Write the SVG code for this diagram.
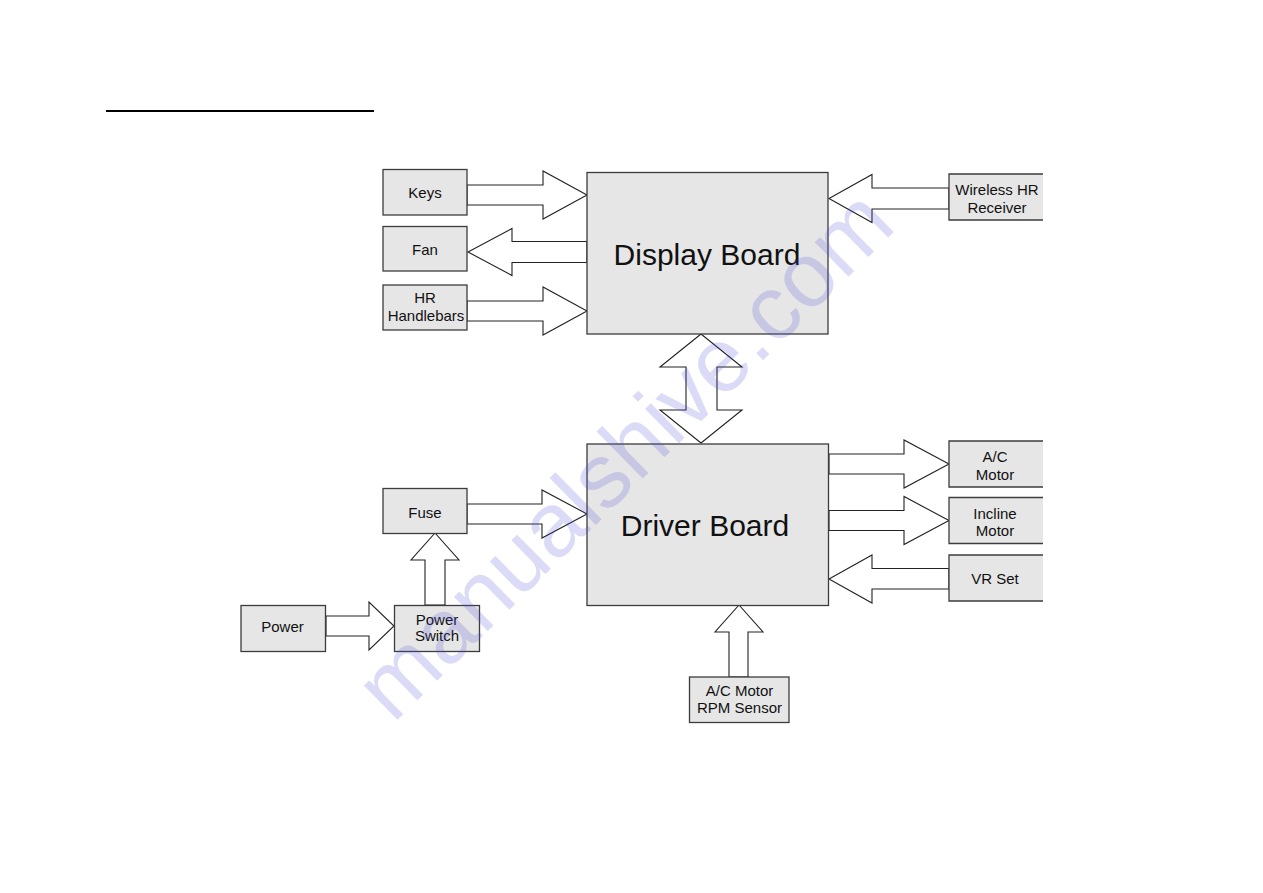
<svg xmlns="http://www.w3.org/2000/svg" width="1263" height="893" viewBox="0 0 1263 893">
<style>
.box{fill:#e6e6e6;stroke:#3c3c3c;stroke-width:1.3}
.boxfill{fill:#e6e6e6;stroke:none}
.boxedge{fill:none;stroke:#3c3c3c;stroke-width:1.3}
.arr{fill:#ffffff;stroke:#222;stroke-width:1.1;stroke-linejoin:miter}
.t{font-family:"Liberation Sans",Arial,sans-serif;font-size:15px;fill:#111;text-anchor:middle}
.big{font-family:"Liberation Sans",Arial,sans-serif;font-size:30px;fill:#111;text-anchor:middle}
.wm{font-family:"Liberation Sans",Arial,sans-serif;font-size:91px;fill:#5050e0;opacity:0.2;text-anchor:middle}
</style>
<rect x="0" y="0" width="1263" height="893" fill="#ffffff"/>
<line x1="106" y1="111" x2="374" y2="111" stroke="#000" stroke-width="2.2"/>
<g id="connectors">
<polygon class="arr" points="467,185 543,185 543,171 587,195 543,219 543,205 467,205"/>
<polygon class="arr" points="587,241.5 512,241.5 512,228.5 468,252 512,275.5 512,262.5 587,262.5"/>
<polygon class="arr" points="467,301 543,301 543,287 587,311 543,335 543,321 467,321"/>
<polygon class="arr" points="949,188 872,188 872,174.5 829,198.5 872,222.5 872,209 949,209"/>
<polygon class="arr" points="701,334 742,367 717,367 717,410 742,410 701,443 660,410 686,410 686,367 660,367"/>
<polygon class="arr" points="829,454 904,454 904,440 949,464 904,488 904,474 829,474"/>
<polygon class="arr" points="829,510.5 904,510.5 904,496.5 949,520.5 904,544.5 904,530.5 829,530.5"/>
<polygon class="arr" points="949,568.5 872,568.5 872,555 829,579 872,603 872,589 949,589"/>
<polygon class="arr" points="467,504 542,504 542,490 587,514 542,538 542,524 467,524"/>
<polygon class="arr" points="326,616 369,616 369,602 394,626 369,650 369,636 326,636"/>
<polygon class="arr" points="425,605 425,560 411,560 435,533 459,560 445,560 445,605"/>
<polygon class="arr" points="729,677 729,632 715,632 739,605 763,632 748,632 748,677"/>
</g>
<g id="keys"><rect class="box" x="383" y="169.5" width="84" height="45.5"/><text class="t" x="425" y="198">Keys</text></g>
<g id="fan"><rect class="box" x="383" y="226.5" width="84" height="44.5"/><text class="t" x="425" y="254.5">Fan</text></g>
<g id="hr-handlebars"><rect class="box" x="383" y="285" width="84" height="45"/><text class="t" x="425" y="303">HR</text><text class="t" x="426" y="321">Handlebars</text></g>
<g id="display-board"><rect class="box" x="587" y="172.5" width="241" height="161.5"/><text class="big" x="707" y="265">Display Board</text></g>
<g id="wireless-hr"><rect class="boxfill" x="949" y="174" width="94" height="46"/><path class="boxedge" d="M1043,174 H949 V220 H1043"/><text class="t" x="997" y="195">Wireless HR</text><text class="t" x="997" y="213">Receiver</text></g>
<g id="driver-board"><rect class="box" x="587" y="444" width="241.5" height="161.5"/><text class="big" x="705" y="536">Driver Board</text></g>
<g id="ac-motor"><rect class="boxfill" x="949" y="441" width="94" height="46"/><path class="boxedge" d="M1043,441 H949 V487 H1043"/><text class="t" x="995" y="462">A/C</text><text class="t" x="995" y="479.5">Motor</text></g>
<g id="incline-motor"><rect class="boxfill" x="949" y="497.5" width="94" height="46"/><path class="boxedge" d="M1043,497.5 H949 V543.5 H1043"/><text class="t" x="995" y="518.5">Incline</text><text class="t" x="995" y="536">Motor</text></g>
<g id="vr-set"><rect class="boxfill" x="949" y="555" width="94" height="46"/><path class="boxedge" d="M1043,555 H949 V601 H1043"/><text class="t" x="995" y="584">VR Set</text></g>
<g id="fuse"><rect class="box" x="383" y="488.5" width="84" height="45"/><text class="t" x="425" y="517.5">Fuse</text></g>
<g id="power"><rect class="box" x="241" y="605.5" width="84.5" height="46"/><text class="t" x="282.5" y="632">Power</text></g>
<g id="power-switch"><rect class="box" x="394.5" y="605.5" width="85" height="46"/><text class="t" x="437" y="625">Power</text><text class="t" x="437" y="641">Switch</text></g>
<g id="rpm-sensor"><rect class="box" x="689.5" y="677" width="99.5" height="45.5"/><text class="t" x="739.5" y="695.5">A/C Motor</text><text class="t" x="739.5" y="713">RPM Sensor</text></g>
<g id="watermark"><text class="wm" x="645.5" y="476" transform="rotate(-44.5 645.5 476)">manualshive.com</text></g>
</svg>
